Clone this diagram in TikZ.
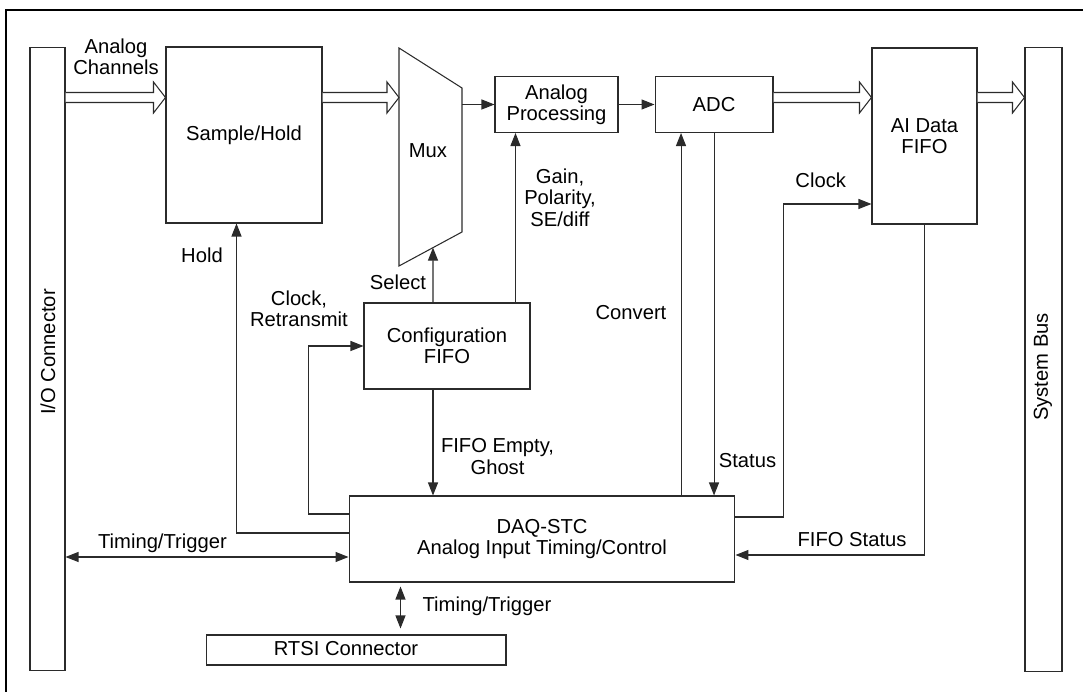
\documentclass[tikz,border=0pt]{standalone}
\usepackage{fontspec}
\setmainfont{Liberation Sans}
\usepackage{xcolor}
\definecolor{wire}{HTML}{2B2B2B}
\usetikzlibrary{%
    arrows.meta,
    positioning,
    calc
}

% hollow bus arrow from #1 to #2 (horizontal)
\newcommand{\busarrow}[2]{%
    \draw [bus_flow] ($(#1)+(0,-5)$) -- ($(#2)+(-12,-5)$) -- ($(#2)+(-12,-15.5)$)
        -- (#2) -- ($(#2)+(-12,15.5)$) -- ($(#2)+(-12,5)$) -- ($(#1)+(0,5)$);
}

\begin{document}
\begin{tikzpicture}[x=0.02cm, y=-0.02cm, font=\fontsize{11.5}{12.2}\selectfont,
                block/.style={rectangle, draw=wire, line width=0.6pt, text centered, align=center, inner sep=0pt},
                note/.style={draw=none, align=center, inner sep=0pt},
                flow/.style={draw=wire, line width=0.6pt, -{Triangle[length=7.4pt, width=5.7pt]}},
                double_flow/.style={draw=wire, line width=0.6pt, {Triangle[length=7.4pt, width=5.7pt]}-{Triangle[length=7.4pt, width=5.7pt]}},
                bus_flow/.style={draw=wire, line width=0.6pt, fill=white, line join=miter}
            ]
            \useasboundingbox (0,0) rectangle (1083,692);

            % frame
            \draw [black, line width=1.1pt] (6,692) -- (6,10) -- (1083,10);

            \coordinate (busy) at (0,97.5);

            \node (io) at (47.5,359) [block, minimum width=0.7cm, minimum height=12.48cm] {};
            \node (iolbl) at (48,352) [note, rotate=90] {I/O Connector};
            \node (sysbus) at (1043.5,359.5) [block, minimum width=0.74cm, minimum height=12.5cm] {};
            \node (sysbuslbl) at (1043,367) [note, rotate=90] {System Bus};

            \node (sh) at (244,135) [block, minimum width=3.12cm, minimum height=3.52cm] {Sample/Hold};

            \draw [draw=wire, line width=0.6pt] (399,48) -- (462,88) -- (462,232) -- (399,266) -- cycle;
            \node (mux) at (428,151) [note] {Mux};
            \coordinate (muxin) at (399,97.5);
            \coordinate (muxout) at (462,104.5);
            \coordinate (muxsel) at (433,247.6);

            \node (proc) at (556.5,104.5) [block, minimum width=2.46cm, minimum height=1.12cm] {Analog \\ Processing};
            \node (adc) [block, right=0.72cm of proc, minimum width=2.36cm, minimum height=1.12cm] {ADC};
            \node (fifo) at (924.5,136) [block, minimum width=2.1cm, minimum height=3.52cm] {AI Data \\ FIFO};

            \node (cfg) at (447,346) [block, minimum width=3.32cm, minimum height=1.72cm] {Configuration \\ FIFO};
            \node (daq) at (542,539) [block, minimum width=7.72cm, minimum height=1.72cm] {DAQ-STC \\ Analog Input Timing/Control};
            \node (rtsi) at (356,650) [block, minimum width=6cm, minimum height=0.6cm] {};
            \node (rtsilbl) at (346,649) [note] {RTSI Connector};

            % labels
            \node (chanlbl) at (116,57) [note] {Analog \\ Channels};
            \node (holdlbl) at (202,255.5) [note] {Hold};
            \node (sellbl) at (398,282) [note] {Select};
            \node (clkrtlbl) at (299,309) [note] {Clock, \\ Retransmit};
            \node (gainlbl) at (560,197.5) [note] {Gain, \\ Polarity, \\ SE/diff};
            \node (convlbl) at (631,312.5) [note] {Convert};
            \node (emptylbl) at (497.5,456.5) [note] {FIFO Empty, \\ Ghost};
            \node (statlbl) at (747.5,461) [note] {Status};
            \node (clklbl) at (820.7,180.3) [note] {Clock};
            \node (fstatlbl) at (852,540) [note] {FIFO Status};
            \node (tt1lbl) at (162.5,543) [note] {Timing/Trigger};
            \node (tt2lbl) at (487,606.7) [note] {Timing/Trigger};

            % data path
            \busarrow{io.east |- busy}{sh.west |- busy}
            \busarrow{sh.east |- busy}{muxin}
            \busarrow{adc.east |- busy}{fifo.west |- busy}
            \busarrow{fifo.east |- busy}{sysbus.west |- busy}
            \draw [flow] (muxout) -- (muxout -| proc.west);
            \draw [flow] (proc.east) -- (adc.west);

            % control
            \draw [flow] ([xshift=-0.28cm]cfg.north) -- (muxsel);
            \draw [flow] ([xshift=1.37cm]cfg.north) -- ([xshift=1.37cm]cfg.north |- proc.south);
            \draw [flow] ([xshift=-0.66cm]adc.south |- daq.north) -- ([xshift=-0.66cm]adc.south);
            \draw [flow] (adc.south) -- (adc.south |- daq.north);
            \draw [flow] ([yshift=0.12cm]daq.west) -| ([xshift=-0.15cm]sh.south);
            \draw [flow] ([yshift=0.5cm]daq.west) -- ++(-0.8cm,0) |- (cfg.west);
            \draw [flow] ([xshift=-0.28cm]cfg.south) -- ([xshift=-0.28cm]cfg.south |- daq.north);
            \draw [flow] ([yshift=0.44cm]daq.east) -- ++(0.96cm,0) |- ([yshift=-1.36cm]fifo.west);
            \draw [flow] (fifo.south) |- ([yshift=-0.32cm]daq.east);
            \draw [double_flow] ([yshift=-0.36cm]daq.west -| io.east) -- ([yshift=-0.36cm]daq.west);
            \draw [double_flow, shorten <=0.12cm, shorten >=0.08cm] ([xshift=0.89cm]rtsi.north) -- ([xshift=0.89cm]rtsi.north |- daq.south);
        \end{tikzpicture}
\end{document}
